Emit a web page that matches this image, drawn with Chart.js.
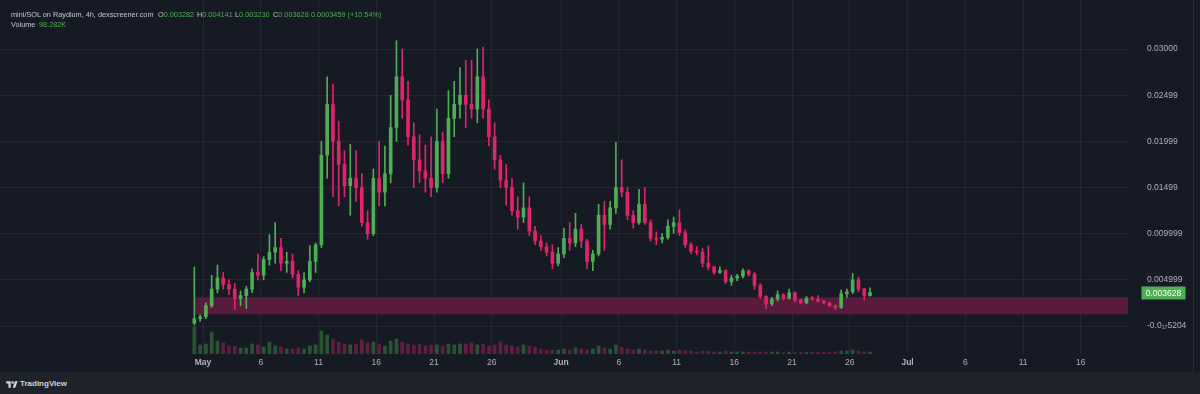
<!DOCTYPE html>
<html><head><meta charset="utf-8">
<script src="https://cdn.jsdelivr.net/npm/chart.js@4.4.1/dist/chart.umd.min.js"></script>
<style>
html,body{margin:0;padding:0;background:#161a25;width:1200px;height:394px;overflow:hidden;font-family:"Liberation Sans",Arial,sans-serif;}
#wrap{position:relative;width:1200px;height:372px;}
#c{position:absolute;left:0;top:0;}
.hd{position:absolute;font-size:7.3px;color:#c3c6ce;white-space:nowrap;line-height:8px;}
.g{color:#4caf50;}
#band{position:absolute;left:0;top:372px;width:1200px;height:22px;background:#1e222b;}
#band svg{position:absolute;left:6px;top:8px;}
#band span{position:absolute;left:20px;top:7px;font-size:8px;line-height:9px;color:#d1d4dc;font-weight:bold;}
</style></head><body>
<div id="wrap">
<canvas id="c" width="1200" height="372"></canvas>
<div class="hd" style="left:11px;top:11px">mini/SOL on Raydium, 4h, dexscreener.com</div>
<div class="hd" style="left:158px;top:11px">O<span class="g">0.003282</span></div>
<div class="hd" style="left:197px;top:11px">H<span class="g">0.004141</span></div>
<div class="hd" style="left:235px;top:11px">L<span class="g">0.003230</span></div>
<div class="hd" style="left:273px;top:11px">C<span class="g">0.003628</span></div>
<div class="hd g" style="left:311px;top:11px">0.0003459 (+10.54%)</div>
<div class="hd" style="left:11px;top:21px">Volume</div>
<div class="hd g" style="left:39px;top:21px">98.282K</div>
</div>
<div id="band"><svg width="12" height="9" viewBox="0 0 36 28"><path d="M14 24H7V11H0V4h14v20zM28 24h-8l7.5-20h8L28 24z" fill="#d1d4dc"/><circle cx="20" cy="8" r="4" fill="#d1d4dc"/></svg><span>TradingView</span></div>
<script>
// 12h candles, first one starting Apr 30 (day -1 relative to May 1)
const opens = [
0.0003,0.0008,0.0010,0.0022,0.0040,0.0052,0.0045,0.0040,0.0030,0.0033,
0.0040,0.0058,0.0055,0.0072,0.0080,0.0085,0.0068,0.0070,0.0056,0.0042,
0.0050,0.0070,0.0088,0.0185,0.0240,0.0200,0.0175,0.0152,0.0160,0.0150,
0.0112,0.0100,0.0160,0.0145,0.0165,0.0215,0.0270,0.0245,0.0205,0.0180,
0.0168,0.0160,0.0150,0.0200,0.0165,0.0225,0.0240,0.0250,0.0240,0.0235,
0.0270,0.0235,0.0205,0.0180,0.0158,0.0150,0.0125,0.0118,0.0128,0.0103,
0.0092,0.0086,0.0080,0.0068,0.0078,0.0095,0.0090,0.0105,0.0092,0.0070,
0.0078,0.0120,0.0110,0.0128,0.0150,0.0145,0.0120,0.0112,0.0132,0.0112,
0.0095,0.0094,0.0096,0.0108,0.0112,0.0101,0.0088,0.0081,0.0080,0.0068,
0.0064,0.0058,0.0060,0.0048,0.0052,0.0054,0.0060,0.0056,0.0044,0.0032,
0.0024,0.0029,0.0034,0.0030,0.0036,0.0028,0.0025,0.0030,0.0029,0.0027,
0.0025,0.0022,0.0020,0.0035,0.0037,0.0050,0.0040,0.003282];
const highs = [
0.0064,0.0012,0.0025,0.0055,0.0066,0.0058,0.0050,0.0046,0.0038,0.0043,
0.0062,0.0078,0.0075,0.0099,0.0112,0.0095,0.0080,0.0078,0.0060,0.0058,
0.0087,0.0090,0.0200,0.0270,0.0262,0.0222,0.0190,0.0197,0.0190,0.0165,
0.0125,0.0170,0.0200,0.0195,0.0250,0.0309,0.0300,0.0265,0.0220,0.0207,
0.0196,0.0205,0.0235,0.0210,0.0255,0.0265,0.0280,0.0288,0.0288,0.0300,
0.0302,0.0245,0.0220,0.0185,0.0175,0.0160,0.0140,0.0155,0.0140,0.0108,
0.0098,0.0090,0.0088,0.0085,0.0106,0.0112,0.0122,0.0110,0.0094,0.0082,
0.0132,0.0135,0.0135,0.0199,0.0180,0.0150,0.0125,0.0148,0.0150,0.0115,
0.0102,0.0100,0.0115,0.0118,0.0126,0.0104,0.0090,0.0086,0.0084,0.0087,
0.0065,0.0064,0.0061,0.0055,0.0056,0.0062,0.0061,0.0058,0.0046,0.0033,
0.0031,0.0038,0.0035,0.0040,0.0037,0.0029,0.0032,0.0032,0.0033,0.0028,
0.0026,0.0023,0.0039,0.0040,0.0057,0.0053,0.0041,0.004141];
const lows = [
0.0001,0.0005,0.0008,0.0020,0.0036,0.0040,0.0034,0.0018,0.0022,0.0019,
0.0036,0.0050,0.0050,0.0066,0.0068,0.0060,0.0058,0.0052,0.0033,0.0036,
0.0048,0.0058,0.0085,0.0160,0.0140,0.0130,0.0140,0.0120,0.0135,0.0108,
0.0094,0.0098,0.0130,0.0130,0.0155,0.0200,0.0225,0.0196,0.0150,0.0155,
0.0145,0.0140,0.0145,0.0155,0.0160,0.0205,0.0225,0.0215,0.0225,0.0220,
0.0225,0.0195,0.0170,0.0150,0.0131,0.0120,0.0105,0.0112,0.0098,0.0088,
0.0082,0.0076,0.0062,0.0065,0.0074,0.0082,0.0086,0.0085,0.0062,0.0060,
0.0076,0.0082,0.0105,0.0122,0.0140,0.0115,0.0106,0.0110,0.0110,0.0092,
0.0088,0.0090,0.0094,0.0100,0.0098,0.0085,0.0078,0.0077,0.0064,0.0061,
0.0056,0.0057,0.0046,0.0044,0.0049,0.0052,0.0054,0.0040,0.0030,0.0019,
0.0022,0.0027,0.0028,0.0029,0.0026,0.0024,0.0024,0.0028,0.0026,0.0024,
0.0021,0.0018,0.0019,0.0031,0.0035,0.0037,0.0028,0.003230];
const closes = [
0.0008,0.0010,0.0022,0.0040,0.0052,0.0045,0.0040,0.0030,0.0033,0.0040,
0.0058,0.0055,0.0072,0.0080,0.0085,0.0068,0.0070,0.0056,0.0042,0.0050,
0.0070,0.0088,0.0185,0.0240,0.0200,0.0175,0.0152,0.0160,0.0150,0.0112,
0.0100,0.0160,0.0145,0.0165,0.0215,0.0270,0.0245,0.0205,0.0180,0.0168,
0.0160,0.0150,0.0200,0.0165,0.0225,0.0240,0.0250,0.0240,0.0235,0.0270,
0.0235,0.0205,0.0180,0.0158,0.0150,0.0125,0.0118,0.0128,0.0103,0.0092,
0.0086,0.0080,0.0068,0.0078,0.0095,0.0090,0.0105,0.0092,0.0070,0.0078,
0.0120,0.0110,0.0128,0.0150,0.0145,0.0120,0.0112,0.0132,0.0112,0.0095,
0.0094,0.0096,0.0108,0.0112,0.0101,0.0088,0.0081,0.0080,0.0068,0.0064,
0.0058,0.0060,0.0048,0.0052,0.0054,0.0060,0.0056,0.0044,0.0032,0.0024,
0.0029,0.0034,0.0030,0.0036,0.0028,0.0025,0.0030,0.0029,0.0027,0.0025,
0.0022,0.0020,0.0035,0.0037,0.0050,0.0040,0.0033,0.003628];
const volumesK = [
1620,540,600,1320,780,660,480,480,360,360,
600,540,420,720,480,420,300,300,360,300,
480,540,1380,1140,900,720,600,540,600,840,
660,720,600,480,780,900,720,600,540,600,
480,540,540,480,600,540,600,600,660,540,
600,480,540,720,540,480,420,540,480,420,
300,240,240,240,300,240,360,300,240,300,
480,360,300,540,420,300,240,300,240,180,
180,180,240,180,240,180,180,120,180,180,
120,120,180,120,120,120,120,120,120,120,
120,120,90,120,90,90,90,90,90,90,
90,120,180,180,240,180,120,120];

// axis ticks (days from May 1)
const xTickDays   = [0,5,10,15,20,25,31,36,41,46,51,56,61,66,71,76];
const xTickLabels = ['May','6','11','16','21','26','Jun','6','11','16','21','26','Jul','6','11','16'];
const yTickValues = [0,0.005,0.01,0.015,0.02,0.025,0.03];
const yTickLabels = ['-0.0\u2081\u20875204','0.004999','0.009999','0.01499','0.01999','0.02499','0.03000'];

// support zone
const zoneLow = 0.00127, zoneHigh = 0.00311, zoneFromDay = -0.7, zoneToDay = 80.1;

const firstCandleDay = -1, candleStep = 0.5;
const dayOf = i => firstCandleDay + i * candleStep + candleStep / 2;

const UP = '#4fae55', DOWN = '#e0246a';
const VUP = 'rgba(76,175,80,0.38)', VDOWN = 'rgba(224,36,106,0.38)';
const candleColors = closes.map((c, i) => c >= opens[i] ? UP : DOWN);
const volColors = closes.map((c, i) => c >= opens[i] ? VUP : VDOWN);
const FONT = '"Liberation Sans", Arial, sans-serif';
const GRID = 'rgba(255,255,255,0.055)';

const decor = {
  id: 'decor',
  beforeDatasetsDraw(chart) {
    const {ctx, scales: {x, y}} = chart;
    const x0 = x.getPixelForValue(zoneFromDay), x1 = x.getPixelForValue(zoneToDay);
    const y0 = y.getPixelForValue(zoneHigh), y1 = y.getPixelForValue(zoneLow);
    ctx.save();
    ctx.fillStyle = '#581b3e';
    ctx.fillRect(x0, y0, x1 - x0, y1 - y0);
    ctx.restore();
  },
  afterDraw(chart) {
    const {ctx, chartArea, scales: {y}} = chart;
    const last = closes[closes.length - 1];
    const py = Math.round(y.getPixelForValue(last));
    ctx.save();
    ctx.fillStyle = '#4caf50';
    ctx.fillRect(chartArea.right + 11.5, py - 6.5, 44, 13);
    ctx.fillStyle = '#ffffff';
    ctx.font = '8.5px ' + FONT;
    ctx.textAlign = 'center';
    ctx.textBaseline = 'middle';
    ctx.fillText(last.toFixed(6), chartArea.right + 33.5, py + 0.5);
    ctx.strokeStyle = '#2a2e39';
    ctx.lineWidth = 1;
    ctx.beginPath(); ctx.moveTo(1193.5, 0); ctx.lineTo(1193.5, chart.height); ctx.stroke();
    ctx.restore();
  }
};

new Chart(document.getElementById('c'), {
  type: 'bar',
  data: {
    datasets: [
      {label: 'Volume', yAxisID: 'yv', order: 3, grouped: false, barThickness: 3,
       data: volumesK.map((v, i) => ({x: dayOf(i), y: v})), backgroundColor: volColors},
      {label: 'Wick', yAxisID: 'y', order: 2, grouped: false, barThickness: 1,
       data: highs.map((h, i) => ({x: dayOf(i), y: [lows[i], h]})), backgroundColor: candleColors},
      {label: 'Body', yAxisID: 'y', order: 1, grouped: false, barThickness: 3, minBarLength: 1,
       data: opens.map((o, i) => ({x: dayOf(i), y: [o, closes[i]]})), backgroundColor: candleColors}
    ]
  },
  options: {
    responsive: false, animation: false, events: [],
    layout: {padding: 0},
    plugins: {legend: {display: false}, tooltip: {enabled: false}},
    datasets: {bar: {borderWidth: 0, borderSkipped: false}},
    scales: {
      x: {
        type: 'linear', min: -17.576, max: 80.26, offset: false,
        grid: {color: GRID, offset: false, drawTicks: false},
        border: {display: false},
        afterBuildTicks: s => { s.ticks = xTickDays.map(v => ({value: v})); },
        afterFit: s => { s.height = 18; s.paddingLeft = 0; s.paddingRight = 0; },
        ticks: {
          autoSkip: false, maxRotation: 0, minRotation: 0, padding: 4, color: '#aeb1ba',
          font: c => ({family: FONT, size: 8.5, weight: /[A-Za-z]/.test(xTickLabels[c.index] || '') ? 'bold' : 'normal'}),
          callback: (v, i) => xTickLabels[i]
        }
      },
      y: {
        type: 'linear', position: 'right', min: -0.00303, max: 0.03531,
        grid: {color: GRID, drawTicks: false},
        border: {display: false},
        afterBuildTicks: s => { s.ticks = yTickValues.map(v => ({value: v})); },
        afterFit: s => { s.width = 70; s.paddingTop = 0; s.paddingBottom = 0; },
        ticks: {padding: 17, color: '#aeb1ba', font: {family: FONT, size: 8.5},
          callback: (v, i) => yTickLabels[i]}
      },
      yv: {type: 'linear', display: false, min: 0, max: 21240}
    }
  },
  plugins: [decor]
});
</script>
</body></html>
